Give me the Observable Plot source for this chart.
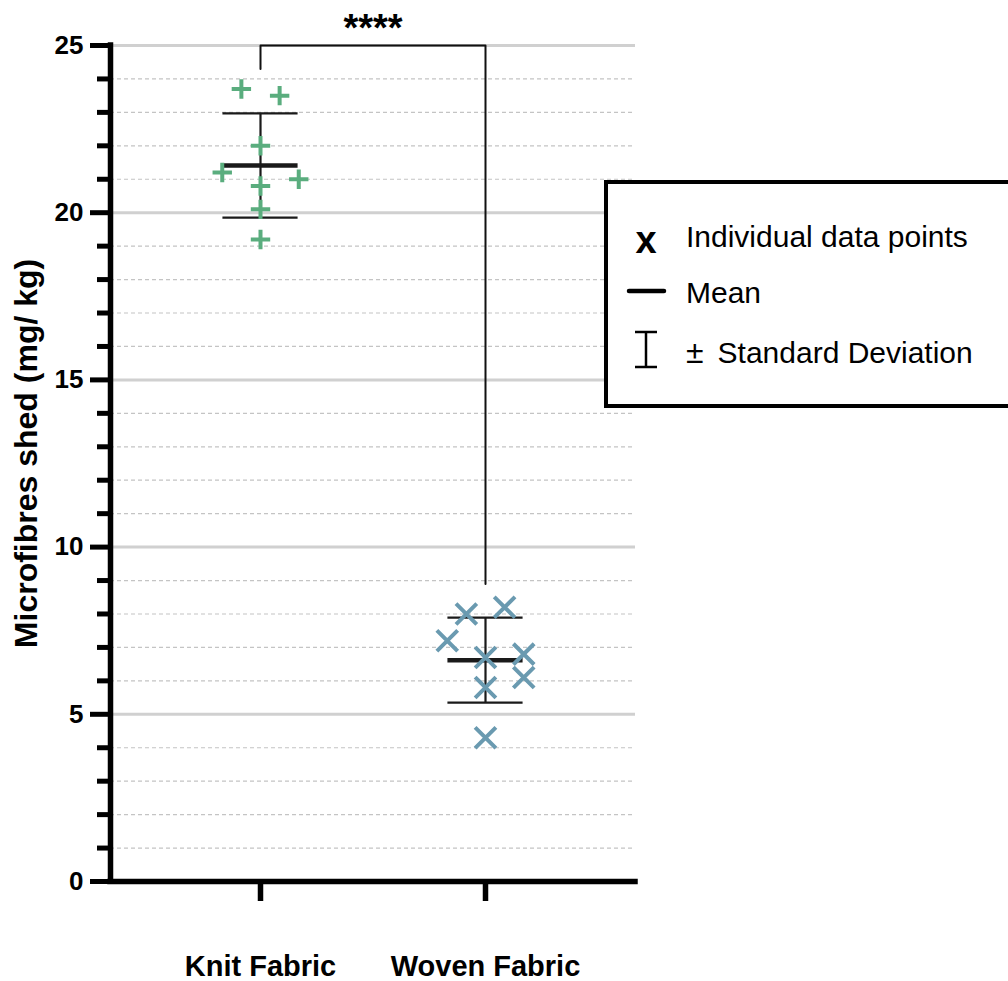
<!DOCTYPE html>
<html><head><meta charset="utf-8">
<script src="https://cdn.jsdelivr.net/npm/d3@7"></script>
<script src="https://cdn.jsdelivr.net/npm/@observablehq/plot@0.6"></script>
<style>html,body{margin:0;padding:0;background:#fff;overflow:hidden}</style>
</head><body><div id="chart"></div>
<script>
const categories = ["Knit Fabric", "Woven Fabric"];
const knitValues = [23.7, 23.5, 22.0, 21.2, 21.0, 20.8, 20.1, 19.2];
const knitColumns = [-1, 1, 0, -2, 2, 0, 0, 0];
const wovenValues = [8.0, 8.2, 7.2, 6.7, 6.8, 6.1, 5.8, 4.3];
const wovenColumns = [-1, 1, -2, 0, 2, 2, 0, 0];
const groupMeans = [21.41, 6.62];
const groupSDs = [1.56, 1.27];
const yMajorTicks = [0, 5, 10, 15, 20, 25];
const significanceLabel = "****";
const bracketEnds = [24.3, 8.9];
const bracketTop = 25;
const legendLabels = ["Individual data points", "Mean", "± Standard Deviation"];
const yLabel = "Microfibres shed (mg/ kg)";

const FONT = "'Liberation Sans', Arial, Helvetica, sans-serif";
const GREEN = "#5aad7e", BLUE = "#6a9ab0";
const STEP = 0.085, HALF = 0.167;

const knitPts = knitValues.map((v, i) => ({x: 1 + knitColumns[i] * STEP, y: v}));
const wovenPts = wovenValues.map((v, i) => ({x: 2 + wovenColumns[i] * STEP, y: v}));
const stats = categories.map((c, i) => ({x: i + 1, mean: groupMeans[i], lo: groupMeans[i] - groupSDs[i], hi: groupMeans[i] + groupSDs[i]}));
const bracket = [
  {x: 1, y: bracketEnds[0]}, {x: 1, y: bracketTop}, {x: 2, y: bracketTop}, {x: 2, y: bracketEnds[1]}
];
const minorTicks = d3.range(1, 25).filter(v => v % 5 !== 0);

const chart = Plot.plot({
  width: 1008, height: 981,
  marginLeft: 110, marginRight: 373, marginTop: 45, marginBottom: 100,
  x: {domain: [1/3, 8/3]},
  y: {domain: [0, 25]},
  style: {fontFamily: FONT, background: "white", color: "black"},
  marks: [
    Plot.ruleY(minorTicks, {stroke: "#c4c4c4", strokeWidth: 1.2, strokeDasharray: "4,3"}),
    Plot.ruleY(yMajorTicks.filter(v => v > 0), {stroke: "#d0d0d0", strokeWidth: 3}),
    Plot.axisY({ticks: minorTicks, tickSize: 13, tickFormat: () => "", strokeWidth: 5, label: null}),
    Plot.axisY({ticks: yMajorTicks, tickSize: 20, tickPadding: 7, strokeWidth: 5, fontSize: 26, fontWeight: "bold", label: null}),
    Plot.axisX({ticks: [1, 2], tickSize: 20, tickPadding: 54, strokeWidth: 5.5, tickFormat: d => categories[d - 1], fontSize: 29, fontWeight: "bold", label: null}),
    Plot.ruleX([1/3], {y1: 0, y2: 25, stroke: "black", strokeWidth: 5.5, strokeLinecap: "square"}),
    Plot.ruleY([0], {stroke: "black", strokeWidth: 5.5, strokeLinecap: "square"}),
    Plot.ruleX(stats, {x: "x", y1: "lo", y2: "hi", stroke: "#1a1a1a", strokeWidth: 2.2}),
    Plot.ruleY(stats, {y: "hi", x1: d => d.x - HALF, x2: d => d.x + HALF, stroke: "#1a1a1a", strokeWidth: 2.2}),
    Plot.ruleY(stats, {y: "lo", x1: d => d.x - HALF, x2: d => d.x + HALF, stroke: "#1a1a1a", strokeWidth: 2.2}),
    Plot.ruleY(stats, {y: "mean", x1: d => d.x - HALF, x2: d => d.x + HALF, stroke: "#1a1a1a", strokeWidth: 4.5}),
    Plot.line(bracket, {x: "x", y: "y", stroke: "#111", strokeWidth: 2}),
    Plot.text([significanceLabel], {x: 1.5, y: bracketTop, dy: -17, fontSize: 38, fontWeight: "bold", fill: "black"}),
    Plot.dot(knitPts, {x: "x", y: "y", symbol: "plus", r: 6.3, stroke: GREEN, strokeWidth: 4, fill: "none"}),
    Plot.dot(wovenPts, {x: "x", y: "y", symbol: "times", r: 9.5, stroke: BLUE, strokeWidth: 4, fill: "none"}),
    Plot.text([yLabel], {x: 1/3, y: 12.8, dx: -84, rotate: -90, fontSize: 32, fontWeight: "bold", fill: "black"})
  ]
});

// Legend (drawn inside the SVG, right side)
const svg = d3.select(chart);
const lg = svg.append("g").attr("font-family", FONT).attr("fill", "black").attr("text-anchor", "start");
lg.append("rect").attr("x", 606).attr("y", 182).attr("width", 430).attr("height", 224)
  .attr("fill", "white").attr("stroke", "black").attr("stroke-width", 4);
lg.append("text").attr("x", 646).attr("y", 253).attr("text-anchor", "middle")
  .attr("font-size", 38).attr("font-weight", "bold").text("x");
lg.append("text").attr("x", 686).attr("y", 247).attr("text-anchor", "start").attr("font-size", 30).text(legendLabels[0]);
lg.append("line").attr("x1", 629).attr("x2", 664).attr("y1", 291).attr("y2", 291)
  .attr("stroke", "black").attr("stroke-width", 4.5).attr("stroke-linecap", "round");
lg.append("text").attr("x", 686).attr("y", 303).attr("text-anchor", "start").attr("font-size", 30).text(legendLabels[1]);
lg.append("line").attr("x1", 646).attr("x2", 646).attr("y1", 332).attr("y2", 367).attr("stroke", "black").attr("stroke-width", 2.5);
lg.append("line").attr("x1", 635).attr("x2", 657).attr("y1", 332).attr("y2", 332).attr("stroke", "black").attr("stroke-width", 2.5);
lg.append("line").attr("x1", 635).attr("x2", 657).attr("y1", 367).attr("y2", 367).attr("stroke", "black").attr("stroke-width", 2.5);
const sdParts = legendLabels[2].split(" ");
const sdText = lg.append("text").attr("x", 686).attr("y", 363).attr("text-anchor", "start").attr("font-size", 30);
sdText.append("tspan").attr("font-size", 32).text(sdParts[0]);
sdText.append("tspan").attr("dx", 14).text(sdParts.slice(1).join(" "));

document.getElementById("chart").appendChild(chart);
</script>
</body></html>
